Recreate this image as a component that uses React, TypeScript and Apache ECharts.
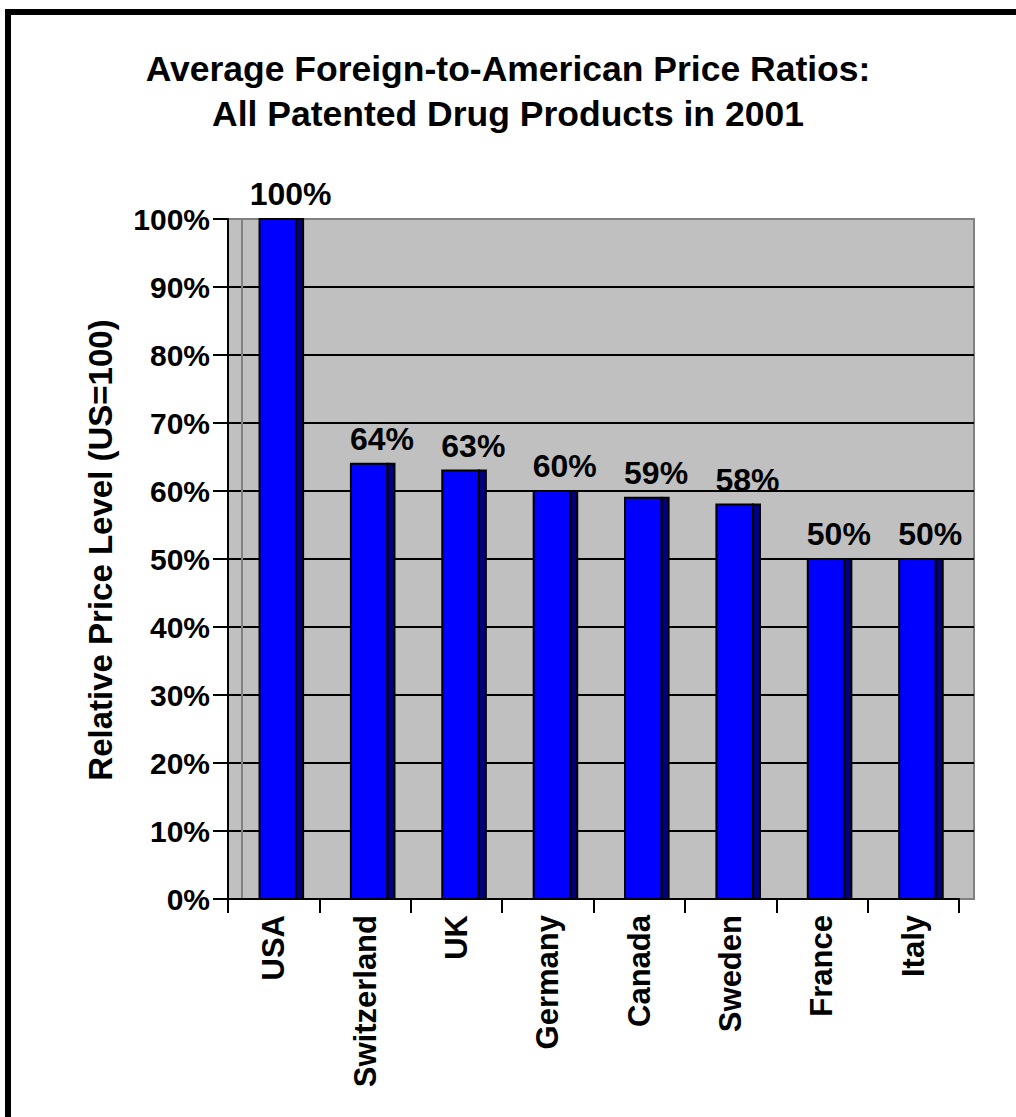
import React, { useEffect, useRef } from "react";
import * as echarts from "echarts";

const categories = ["USA", "Switzerland", "UK", "Germany", "Canada", "Sweden", "France", "Italy"];
const values = [100, 64, 63, 60, 59, 58, 50, 50];
const yTicks = { min: 0, max: 100, interval: 10 };
const titleLines = ["Average Foreign-to-American Price Ratios:", "All Patented Drug Products in 2001"];
const yAxisName = "Relative Price Level (US=100)";

const FONT = "'Liberation Sans', Arial, Helvetica, sans-serif";

export default function App() {
  const ref = useRef<HTMLDivElement>(null);
  useEffect(() => {
    document.body.style.margin = "0";
    const chart = echarts.init(ref.current!, null, { renderer: "svg" });
    const option: any = {
      animation: false,
      backgroundColor: "#ffffff",
      title: {
        text: titleLines.join("\n"),
        left: "center",
        top: 41,
        textStyle: {
          fontFamily: FONT,
          fontWeight: "bold",
          fontSize: 35.5,
          lineHeight: 45,
          color: "#000",
        },
      },
      grid: [
        { left: 228, top: 219, width: 731, height: 680, containLabel: false },
        {
          left: 228,
          top: 219,
          width: 746,
          height: 680,
          show: true,
          backgroundColor: "#c0c0c0",
          borderColor: "#808080",
          borderWidth: 2,
          z: -1,
        },
      ],
      xAxis: [
        {
          type: "category",
          gridIndex: 0,
          data: categories,
          axisLine: { lineStyle: { color: "#000", width: 2 } },
          axisTick: { show: true, length: 14, lineStyle: { color: "#000", width: 2 } },
          axisLabel: {
            rotate: 90,
            margin: 16,
            color: "#000",
            fontFamily: FONT,
            fontWeight: "bold",
            fontSize: 31,
          },
          splitLine: { show: false },
        },
        { type: "value", gridIndex: 1, show: false, min: 0, max: 1 },
      ],
      yAxis: [
        {
          type: "value",
          gridIndex: 0,
          min: yTicks.min,
          max: yTicks.max,
          interval: yTicks.interval,
          axisLine: { show: true, lineStyle: { color: "#000", width: 2 } },
          axisTick: { show: true, length: 15, lineStyle: { color: "#000", width: 2 } },
          axisLabel: {
            formatter: "{value}%",
            margin: 18,
            color: "#000",
            fontFamily: FONT,
            fontWeight: "bold",
            fontSize: 30,
          },
          splitLine: { show: false },
        },
        {
          type: "value",
          gridIndex: 1,
          min: yTicks.min,
          max: yTicks.max,
          interval: yTicks.interval,
          axisLine: { show: false },
          axisTick: { show: false },
          axisLabel: { show: false },
          splitLine: { show: true, showMaxLine: false, showMinLine: false, lineStyle: { color: "#000", width: 2 } },
        },
      ],
      graphic: [
        {
          type: "rect",
          shape: { x: 8, y: 12, width: 1200, height: 1300 },
          style: { fill: "none", stroke: "#000", lineWidth: 6 },
          silent: true,
        },
        {
          type: "line",
          shape: { x1: 242, y1: 220, x2: 242, y2: 898 },
          style: { stroke: "#808080", lineWidth: 2 },
          z: 1,
        },
        {
          type: "text",
          x: 100,
          y: 550,
          rotation: Math.PI / 2,
          style: {
            text: yAxisName,
            font: `bold 33px ${FONT}`,
            fill: "#000",
            align: "center",
            verticalAlign: "middle",
          },
        },
      ],
      series: [
        {
          type: "custom",
          xAxisIndex: 0,
          yAxisIndex: 0,
          z: 5,
          data: values.map((v, i) => [i, v]),
          encode: { x: 0, y: 1 },
          renderItem: (params: any, api: any) => {
            const idx = api.value(0);
            const v = api.value(1);
            const top = api.coord([idx, v]);
            const base = api.coord([idx, 0]);
            const bw = api.size([1, 0])[0];
            const cx = top[0];
            const fl = cx - bw * 0.155;
            const fr = cx + bw * 0.246;
            const dr = cx + bw * 0.322;
            const h = base[1] - top[1];
            return {
              type: "group",
              children: [
                {
                  type: "rect",
                  shape: { x: fl, y: top[1], width: fr - fl, height: h },
                  style: { fill: "#0000ff", stroke: "#000", lineWidth: 2 },
                },
                {
                  type: "rect",
                  shape: { x: fr, y: top[1], width: dr - fr, height: h },
                  style: { fill: "#000080", stroke: "#000", lineWidth: 2 },
                },
                {
                  type: "text",
                  x: cx + bw * 0.185,
                  y: top[1] - 25,
                  style: {
                    text: v + "%",
                    font: `bold 32px ${FONT}`,
                    fill: "#000",
                    align: "center",
                    verticalAlign: "middle",
                  },
                },
              ],
            };
          },
        },
      ],
    };
    chart.setOption(option);
    return () => chart.dispose();
  }, []);
  return <div ref={ref} style={{ width: 1016, height: 1117 }} />;
}
